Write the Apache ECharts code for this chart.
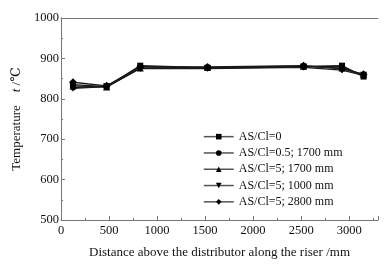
<!DOCTYPE html>
<html>
<head>
<meta charset="utf-8">
<script src="https://cdn.jsdelivr.net/npm/echarts@6/dist/echarts.min.js"></script>
<style>
  html, body { margin: 0; padding: 0; background: #fff; }
  #chart { width: 388px; height: 264px; }
</style>
</head>
<body>
<div id="chart"></div>
<script>
// distance above distributor, mm
const distance = [125, 475, 825, 1525, 2525, 2925, 3150];

const seriesNames = [
    'AS/Cl=0',
    'AS/Cl=0.5; 1700 mm',
    'AS/Cl=5; 1700 mm',
    'AS/Cl=5; 1000 mm',
    'AS/Cl=5; 2800 mm'
];

// temperature, °C
const tempAS0 = [835, 830, 882, 877, 880, 882, 855];
const tempAS05_1700 = [828, 831, 880, 876, 879, 880, 857];
const tempAS5_1700 = [832, 829, 876, 878, 881, 876, 860];
const tempAS5_1000 = [826, 830, 875, 875, 878, 871, 858];
const tempAS5_2800 = [841, 832, 879, 879, 882, 874, 861];

const allTemps = [tempAS0, tempAS05_1700, tempAS5_1700, tempAS5_1000, tempAS5_2800];
const symbols = ['rect', 'circle', 'triangle', 'path://M0,0 L10,0 L5,9 Z', 'diamond'];
const symbolSizes = [6, 6, 7, 7, 8];

const font = '"Liberation Serif", "DejaVu Serif", serif';

const chart = echarts.init(document.getElementById('chart'), null, { renderer: 'canvas' });

const series = allTemps.map((temps, i) => ({
    name: seriesNames[i],
    type: 'line',
    data: temps.map((t, j) => [distance[j], t]),
    symbol: symbols[i],
    symbolSize: symbolSizes[i],
    lineStyle: { color: '#1a1a1a', width: 1.3 },
    itemStyle: { color: '#000' },
    emphasis: { disabled: true }
}));

const option = {
    animation: false,
    textStyle: { fontFamily: font },
    grid: { left: 61, right: 10, top: 18, bottom: 38 },
    legend: {
        orient: 'vertical',
        left: 203,
        top: 130,
        padding: 0,
        itemWidth: 30,
        itemHeight: 7,
        itemGap: 3,
        textStyle: { fontFamily: font, fontSize: 12, lineHeight: 13.3, color: '#111', padding: [0, 0, 0, 0] },
        data: seriesNames.map(n => ({
            name: n,
            itemStyle: { color: '#000' },
            lineStyle: { color: '#555', width: 1.5 }
        }))
    },
    xAxis: [{
        type: 'value',
        min: 0,
        max: 3300,
        interval: 500,
        name: 'Distance above the distributor along the riser /mm',
        nameLocation: 'middle',
        nameGap: 26,
        nameTextStyle: { fontFamily: font, fontSize: 13, color: '#111' },
        axisLine: { onZero: false, lineStyle: { color: '#777' } },
        axisTick: { inside: true, length: 4, lineStyle: { color: '#777' } },
        minorTick: { show: true, splitNumber: 2, length: 2, lineStyle: { color: '#777' } },
        axisLabel: { fontFamily: font, fontSize: 12.5, color: '#111', margin: 4,
            formatter: v => (v > 3000 ? '' : String(v)) },
        splitLine: { show: false }
    }, {
        type: 'value',
        position: 'top',
        min: 0,
        max: 3300,
        axisLine: { show: true, lineStyle: { color: '#777' } },
        axisTick: { show: false },
        axisLabel: { show: false },
        splitLine: { show: false }
    }],
    yAxis: [{
        type: 'value',
        min: 500,
        max: 1000,
        interval: 100,
        name: 'Temperature    {i|t} /℃',
        nameLocation: 'middle',
        nameRotate: 90,
        nameGap: 30,
        nameTextStyle: {
            fontFamily: font, fontSize: 13, color: '#111',
            rich: { i: { fontFamily: font, fontStyle: 'italic', fontSize: 13, color: '#111' } }
        },
        axisLine: { show: true, onZero: false, lineStyle: { color: '#777' } },
        axisTick: { show: true, inside: true, length: 4, lineStyle: { color: '#777' } },
        minorTick: { show: true, splitNumber: 2, length: 2, lineStyle: { color: '#777' } },
        axisLabel: { fontFamily: font, fontSize: 12.5, color: '#111', margin: 2,
            formatter: v => String(v) },
        splitLine: { show: false }
    }, {
        type: 'value',
        position: 'right',
        min: 500,
        max: 1000,
        axisLine: { show: true, lineStyle: { color: '#777' } },
        axisTick: { show: false },
        axisLabel: { show: false },
        splitLine: { show: false }
    }],
    series: series
};

chart.setOption(option);
</script>
</body>
</html>
